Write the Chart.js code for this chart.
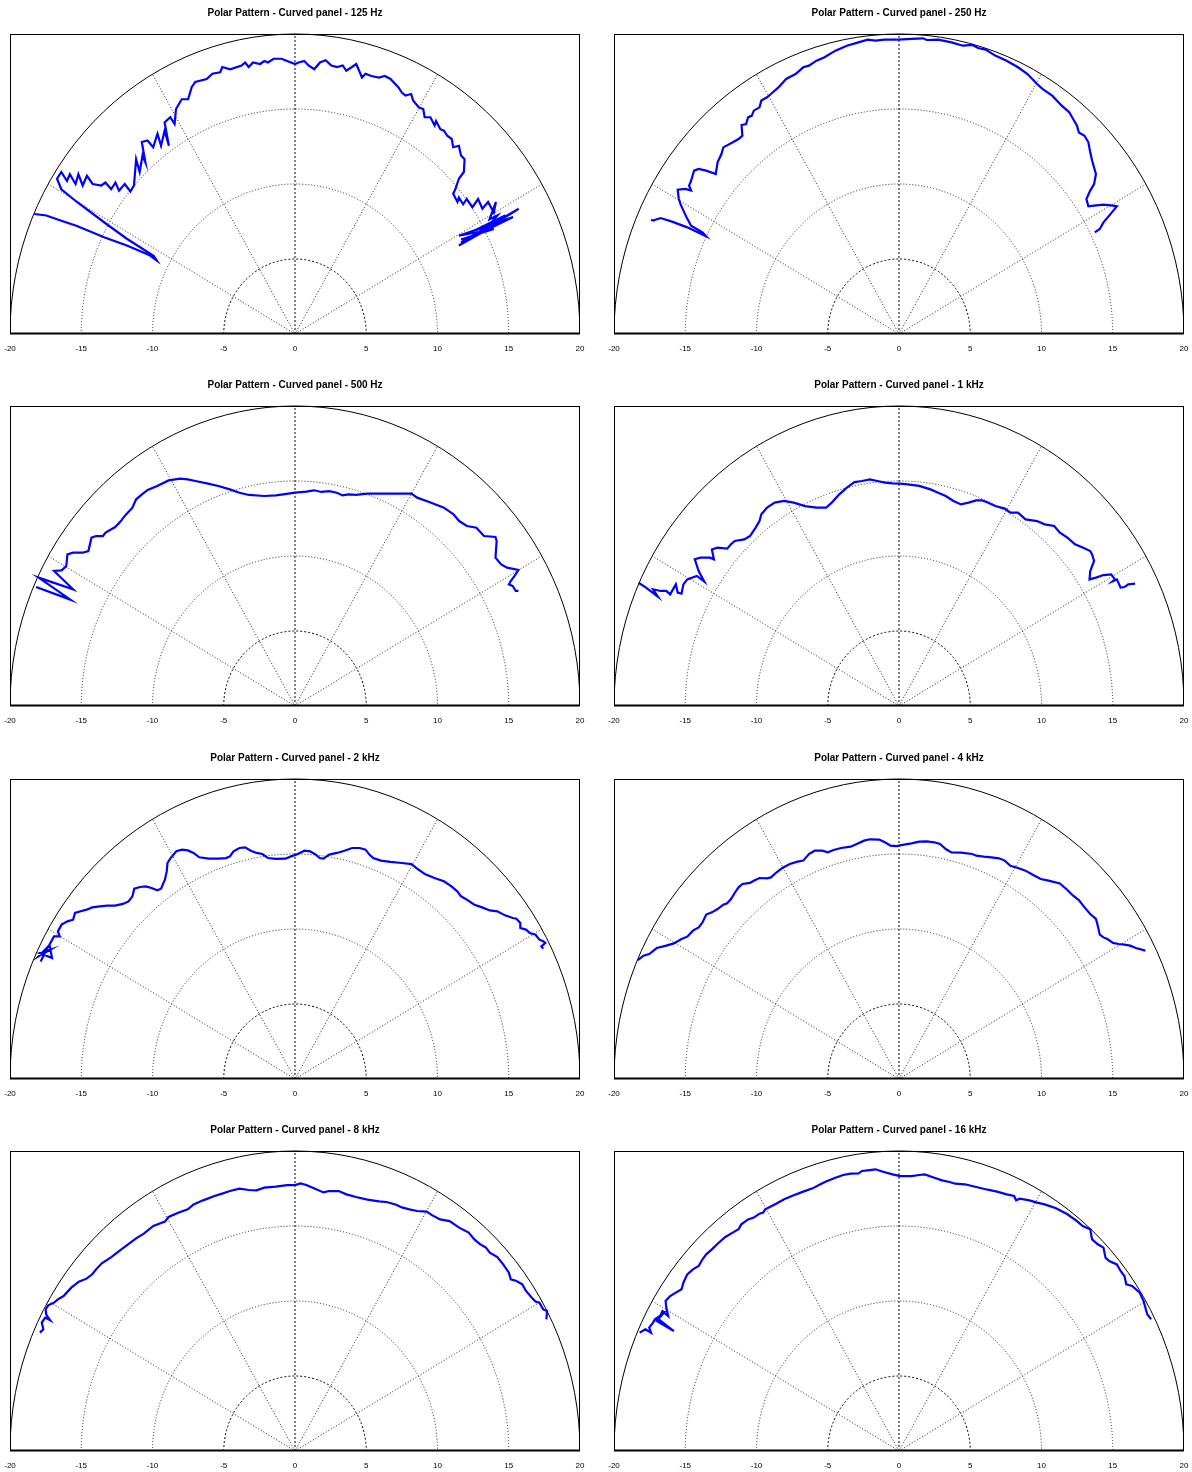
<!DOCTYPE html>
<html>
<head>
<meta charset="utf-8">
<title>Polar Pattern - Curved panel</title>
<script src="https://cdn.jsdelivr.net/npm/chart.js@4.4.1/dist/chart.umd.min.js"></script>
<style>
html, body { margin: 0; padding: 0; background: #fff; }
#page { position: relative; width: 1192px; height: 1472px; }
#page canvas { position: absolute; }
</style>
</head>
<body>
<div id="page"></div>
<script>
// axis + grid values
const xTicks = [-20, -15, -10, -5, 0, 5, 10, 15, 20];
const ringRadii = [5, 10, 15, 20];
const spokeAngles = [30, 60, 90, 120, 150];
const titles = ['125 Hz', '250 Hz', '500 Hz', '1 kHz', '2 kHz', '4 kHz', '8 kHz', '16 kHz'];

const p125 = [[-18.3,8.0],[-17.45,7.9],[-16.4,7.55],[-15.3,7.2],[-13.4,6.45],[-11.8,5.9],[-10.2,5.25],[-9.7,4.9],[-9.9,5.2],[-11.8,6.35],[-13.4,7.45],[-15.3,8.8],[-16.4,9.65],[-16.7,10.35],[-16.4,10.8],[-16.0,10.2],[-15.8,10.65],[-15.4,10.0],[-15.2,10.65],[-14.9,9.9],[-14.6,10.55],[-14.2,10.0],[-13.6,9.9],[-13.3,10.1],[-12.9,9.65],[-12.6,10.1],[-12.35,9.55],[-11.95,10.0],[-11.55,9.5],[-11.3,9.9],[-11.15,11.65],[-10.9,10.8],[-10.7,11.9],[-10.5,11.45],[-10.75,12.8],[-10.35,12.9],[-9.95,12.45],[-9.65,13.35],[-9.4,12.55],[-9.15,13.55],[-8.85,12.55],[-9.15,14.1],[-8.75,14.45],[-8.45,14.0],[-8.35,15.0],[-7.95,15.65],[-7.5,15.65],[-7.25,16.45],[-7.0,16.8],[-6.2,17.0],[-5.8,17.35],[-5.25,17.45],[-5.1,17.8],[-4.55,17.65],[-3.75,17.9],[-3.5,18.1],[-3.25,17.8],[-2.95,18.1],[-2.45,18.0],[-2.15,18.2],[-1.9,18.1],[-1.5,18.35],[-0.95,18.35],[-0.55,18.2],[0,18.0],[0.25,18.1],[0.65,18.2],[0.95,17.9],[1.35,17.65],[1.75,18.1],[2.15,18.25],[2.55,17.9],[2.95,17.8],[3.35,17.9],[3.6,17.55],[4.0,17.8],[4.3,18.0],[4.7,17.1],[4.95,17.35],[5.35,17.2],[5.9,17.1],[6.3,17.2],[6.7,17.0],[7.25,16.45],[7.5,16.1],[7.75,15.9],[8.15,16.0],[8.3,15.55],[8.7,15.1],[9.0,15.0],[9.1,14.45],[9.5,14.45],[9.8,13.9],[9.9,14.2],[10.2,13.65],[10.45,13.55],[10.7,13.2],[11.0,13.0],[11.1,12.45],[11.5,12.55],[11.65,11.9],[11.9,11.65],[11.85,10.8],[11.5,10.35],[11.25,9.65],[11.1,9.35],[11.4,8.8],[11.5,9.1],[11.8,8.65],[12.05,9.0],[12.45,8.45],[12.85,9.0],[13.15,8.35],[13.55,8.8],[13.95,8.1],[14.1,8.8],[13.65,7.65],[14.2,7.9],[13.4,7.0],[14.75,7.9],[12.6,6.9],[14.2,7.35],[11.5,5.9],[15.7,8.35],[11.65,6.1],[15.3,7.8],[11.5,6.55],[13.95,7.0],[11.65,6.3]];
const p250 = [[-17.4,7.62],[-17.26,7.56],[-16.73,7.73],[-15.93,7.49],[-14.86,7.11],[-13.53,6.51],[-13.79,6.78],[-14.59,7.22],[-14.91,7.78],[-15.07,8.11],[-15.34,8.67],[-15.45,9.0],[-15.53,9.62],[-14.99,9.67],[-14.59,9.56],[-14.73,9.89],[-14.59,10.22],[-14.38,10.89],[-14.06,11.0],[-13.53,10.89],[-12.86,10.67],[-12.73,11.44],[-12.46,12.0],[-12.33,12.44],[-11.66,12.78],[-11.26,13.0],[-10.99,13.22],[-11.05,13.93],[-10.73,14.0],[-10.59,14.44],[-10.33,14.56],[-10.19,14.89],[-9.79,15.11],[-9.66,15.56],[-9.26,15.78],[-8.99,16.0],[-8.46,16.44],[-7.92,17.0],[-7.26,17.33],[-6.72,17.78],[-6.32,17.89],[-5.79,18.22],[-5.26,18.44],[-4.46,18.89],[-3.66,19.22],[-2.85,19.44],[-2.19,19.62],[-1.65,19.56],[-0.99,19.62],[-0.05,19.62],[0.88,19.67],[1.68,19.71],[1.95,19.6],[2.75,19.62],[3.68,19.44],[4.48,19.22],[5.15,19.27],[5.55,19.07],[6.08,18.96],[6.75,18.56],[7.55,18.22],[8.35,17.78],[9.02,17.33],[9.69,16.67],[10.09,16.33],[10.75,15.89],[11.42,15.22],[11.95,14.78],[12.22,14.33],[12.49,13.89],[12.62,13.44],[13.02,13.22],[13.29,12.78],[13.42,12.11],[13.55,11.56],[13.82,10.67],[13.69,10.0],[13.42,9.56],[13.15,9.0],[13.29,8.51],[13.69,8.56],[14.35,8.62],[15.02,8.56],[15.29,8.51],[14.75,7.89],[14.35,7.44],[14.09,7.0],[13.74,6.78]];
const p500 = [[-18.17,7.93],[-15.76,7.09],[-17.99,8.56],[-15.57,7.78],[-16.91,9.0],[-16.38,9.04],[-16.05,9.33],[-15.97,10.11],[-15.57,10.22],[-14.9,10.22],[-14.5,10.33],[-14.28,11.22],[-13.96,11.33],[-13.48,11.33],[-13.29,11.56],[-12.62,11.93],[-12.22,12.33],[-11.95,12.67],[-11.41,13.22],[-11.15,13.78],[-10.74,14.11],[-10.34,14.4],[-9.67,14.67],[-8.87,15.04],[-8.06,15.16],[-7.52,15.11],[-6.99,15.0],[-6.18,14.84],[-5.38,14.67],[-4.57,14.44],[-3.9,14.22],[-3.23,14.07],[-2.16,14.0],[-1.35,14.04],[-0.82,14.11],[0,14.22],[0.79,14.29],[1.33,14.38],[1.86,14.27],[2.4,14.33],[2.94,14.22],[3.34,14.04],[3.74,14.11],[4.28,14.07],[5.08,14.16],[5.89,14.16],[6.69,14.16],[7.5,14.16],[8.17,14.16],[8.57,13.89],[9.37,13.62],[10.45,13.22],[11.12,12.78],[11.52,12.33],[12.06,12.0],[12.73,11.89],[13.26,11.33],[14.07,11.27],[14.15,11.0],[14.07,9.89],[14.47,9.44],[14.88,9.22],[15.68,9.07],[15.41,8.67],[15.14,8.33],[15.01,8.11],[15.28,8.0],[15.49,7.67],[15.68,7.67]];
const p1k = [[-18.28,8.22],[-17.8,7.93],[-16.92,7.29],[-17.26,7.78],[-16.73,7.67],[-16.33,7.67],[-16.06,7.44],[-15.66,8.11],[-15.53,7.56],[-15.26,7.49],[-15.13,8.11],[-14.86,8.44],[-14.19,8.67],[-13.66,8.29],[-14.06,9.0],[-14.33,9.78],[-13.93,9.89],[-13.26,9.89],[-12.99,9.78],[-13.13,10.44],[-12.73,10.56],[-12.06,10.49],[-11.79,10.78],[-11.53,11.0],[-10.86,11.11],[-10.46,11.33],[-10.06,11.89],[-9.79,12.33],[-9.66,12.78],[-9.26,13.22],[-8.72,13.56],[-8.06,13.67],[-7.39,13.56],[-6.59,13.33],[-5.79,13.22],[-5.12,13.22],[-4.72,13.56],[-4.19,14.11],[-3.66,14.56],[-3.12,14.93],[-2.59,15.0],[-2.05,15.11],[-1.52,15.0],[-0.99,14.89],[-0.45,14.84],[0.08,14.82],[0.61,14.78],[1.41,14.67],[2.21,14.44],[2.75,14.22],[3.28,14.0],[3.82,13.67],[4.35,13.44],[4.88,13.56],[5.42,13.71],[5.82,13.71],[6.22,13.56],[6.75,13.33],[7.42,13.16],[7.82,12.89],[8.35,12.89],[8.88,12.44],[9.69,12.33],[10.22,12.11],[10.89,12.0],[11.29,11.56],[11.82,11.22],[12.35,10.78],[12.89,10.56],[13.42,10.33],[13.55,10.11],[13.69,9.67],[13.42,9.0],[13.37,8.44],[13.82,8.56],[14.35,8.73],[14.89,8.78],[15.15,8.44],[15.02,8.33],[15.29,8.44],[15.55,7.89],[15.82,7.93],[16.09,8.11],[16.57,8.16]];
const p2k = [[-17.85,7.84],[-17.32,8.84],[-17.99,8.18],[-17.18,8.62],[-17.91,8.4],[-17.05,8.07],[-17.23,8.96],[-16.91,9.51],[-16.51,9.51],[-16.64,9.84],[-16.38,10.29],[-15.97,10.51],[-15.57,10.62],[-15.44,11.07],[-15.04,11.18],[-14.63,11.29],[-14.23,11.44],[-13.69,11.51],[-13.16,11.56],[-12.62,11.56],[-12.08,11.67],[-11.68,11.84],[-11.41,12.18],[-11.28,12.69],[-10.88,12.8],[-10.47,12.84],[-10.07,12.73],[-9.67,12.58],[-9.4,12.69],[-9.13,13.29],[-9.0,13.84],[-8.95,14.4],[-8.73,14.73],[-8.33,15.18],[-7.93,15.29],[-7.52,15.24],[-7.12,15.07],[-6.72,14.78],[-6.05,14.69],[-5.38,14.69],[-4.84,14.73],[-4.57,14.84],[-4.31,15.18],[-3.9,15.4],[-3.5,15.44],[-3.1,15.22],[-2.7,15.07],[-2.29,15.0],[-1.89,14.73],[-1.35,14.67],[-0.68,14.69],[-0.28,14.84],[0.12,14.96],[0.66,15.22],[1.06,15.18],[1.46,14.96],[1.73,14.73],[2.0,14.69],[2.4,14.96],[2.94,15.07],[3.47,15.22],[4.01,15.4],[4.55,15.4],[4.95,15.29],[5.22,14.96],[5.49,14.73],[6.02,14.56],[6.69,14.47],[7.5,14.4],[8.17,14.33],[8.57,14.02],[9.11,13.67],[9.78,13.4],[10.45,13.18],[10.98,12.84],[11.39,12.51],[11.65,12.18],[12.06,11.96],[12.59,11.62],[13.13,11.44],[13.67,11.24],[14.2,11.18],[14.74,10.91],[15.28,10.73],[15.54,10.69],[15.81,10.4],[15.81,10.07],[16.21,9.96],[16.48,9.73],[16.88,9.62],[17.15,9.29],[17.42,9.18],[17.56,9.07],[17.29,8.84],[17.42,8.69]];
const p4k = [[-18.33,7.93],[-17.93,8.22],[-17.53,8.33],[-17.0,8.73],[-16.33,8.89],[-15.8,9.04],[-15.26,9.33],[-14.86,9.49],[-14.46,9.89],[-14.06,10.11],[-13.79,10.44],[-13.53,10.96],[-13.13,11.11],[-12.73,11.33],[-12.33,11.62],[-12.06,11.71],[-11.79,12.0],[-11.53,12.4],[-11.26,12.78],[-10.99,13.0],[-10.46,13.07],[-10.19,13.22],[-9.79,13.4],[-9.26,13.38],[-8.99,13.44],[-8.59,13.78],[-8.19,14.07],[-7.66,14.33],[-7.12,14.49],[-6.72,14.56],[-6.32,15.0],[-5.92,15.22],[-5.39,15.22],[-4.99,15.11],[-4.59,15.27],[-4.06,15.4],[-3.39,15.49],[-2.85,15.71],[-2.45,15.89],[-2.05,15.98],[-1.39,15.96],[-0.99,15.78],[-0.59,15.56],[-0.19,15.53],[0.35,15.62],[0.88,15.71],[1.41,15.82],[1.95,15.84],[2.48,15.78],[2.88,15.67],[3.28,15.33],[3.68,15.11],[4.35,15.09],[5.15,15.0],[5.42,14.89],[5.95,14.82],[6.48,14.78],[7.02,14.71],[7.42,14.56],[7.82,14.22],[8.35,14.07],[8.88,13.89],[9.42,13.6],[9.95,13.33],[10.49,13.22],[11.29,13.04],[11.82,12.6],[12.22,12.22],[12.62,11.93],[13.02,11.44],[13.42,11.0],[13.82,10.67],[13.95,10.22],[14.09,9.62],[14.35,9.44],[14.62,9.33],[15.02,9.07],[15.42,9.0],[15.82,8.96],[16.22,8.89],[16.62,8.73],[17.29,8.56]];
const p8k = [[-17.9,7.89],[-17.66,8.11],[-17.77,8.56],[-17.53,8.89],[-17.18,8.71],[-17.45,9.07],[-17.5,9.44],[-17.32,9.71],[-16.91,9.89],[-16.64,10.11],[-16.24,10.33],[-15.7,10.89],[-15.17,11.29],[-14.63,11.49],[-14.23,11.78],[-13.96,12.11],[-13.56,12.51],[-12.89,12.93],[-12.35,13.33],[-11.55,13.89],[-11.15,14.18],[-10.61,14.49],[-9.94,15.0],[-9.13,15.29],[-8.87,15.6],[-8.2,15.89],[-7.52,16.11],[-7.12,16.44],[-6.45,16.71],[-5.65,17.0],[-5.11,17.16],[-4.57,17.33],[-3.9,17.49],[-3.23,17.4],[-2.7,17.38],[-2.16,17.56],[-1.35,17.62],[-0.55,17.73],[0,17.73],[0.39,17.84],[0.79,17.73],[1.33,17.51],[2.0,17.24],[2.4,17.33],[3.07,17.33],[3.61,17.11],[4.28,16.93],[5.08,16.76],[5.89,16.64],[6.42,16.6],[7.1,16.42],[7.5,16.24],[8.03,16.11],[8.57,16.0],[9.24,15.96],[9.64,15.71],[10.18,15.44],[10.85,15.33],[11.52,14.89],[12.19,14.56],[12.59,14.11],[13.0,13.78],[13.4,13.56],[13.67,13.22],[14.2,12.93],[14.61,12.44],[15.01,11.89],[15.14,11.44],[15.54,11.33],[15.95,11.11],[16.21,10.67],[16.62,10.22],[16.88,9.96],[17.15,9.89],[17.42,9.44],[17.69,9.33],[17.64,8.78]];
const p16k = [[-18.2,7.89],[-17.8,8.11],[-17.4,7.89],[-17.53,8.22],[-17.26,8.56],[-17.13,8.78],[-16.6,9.11],[-17.0,8.67],[-15.8,8.0],[-16.86,8.78],[-16.6,9.33],[-16.2,9.0],[-16.33,9.56],[-16.38,10.0],[-16.06,10.33],[-15.66,10.56],[-15.26,10.78],[-15.13,11.22],[-14.86,11.78],[-14.46,12.11],[-14.06,12.33],[-13.79,12.78],[-13.53,13.11],[-13.13,13.44],[-12.73,13.82],[-12.19,14.27],[-11.79,14.49],[-11.26,14.78],[-11.07,15.11],[-10.59,15.44],[-10.19,15.56],[-9.79,15.82],[-9.53,15.89],[-9.39,16.11],[-8.72,16.44],[-8.06,16.78],[-7.52,17.0],[-6.72,17.29],[-6.06,17.51],[-5.52,17.78],[-5.12,17.96],[-4.46,18.22],[-3.92,18.4],[-3.39,18.49],[-2.85,18.51],[-2.59,18.67],[-2.05,18.73],[-1.65,18.78],[-1.12,18.62],[-0.45,18.44],[0.08,18.33],[0.88,18.33],[1.41,18.4],[1.81,18.44],[2.48,18.22],[3.02,18.04],[3.55,17.93],[3.95,17.82],[4.62,17.78],[5.42,17.6],[6.22,17.42],[6.88,17.29],[7.55,17.11],[8.08,17.0],[8.22,16.71],[8.48,16.82],[9.15,16.71],[9.69,16.56],[10.22,16.44],[11.02,16.18],[11.82,15.78],[12.49,15.33],[12.89,15.0],[13.42,14.78],[13.55,14.11],[13.95,13.78],[14.35,13.56],[14.49,12.89],[14.75,12.67],[15.29,12.44],[15.55,12.0],[15.82,11.67],[15.95,11.11],[16.36,11.0],[16.89,10.56],[17.16,10.0],[17.29,9.56],[17.42,9.11],[17.69,8.78]];

const curves = [p125, p250, p500, p1k, p2k, p4k, p8k, p16k];

// half-circle grid, spokes and frame, drawn through the scales
const polarGrid = {
  id: 'polarGrid',
  beforeDatasetsDraw(chart) {
    const { ctx, chartArea: a, scales: { x, y } } = chart;
    const cx = x.getPixelForValue(0), cy = y.getPixelForValue(0);
    ctx.save();
    ctx.beginPath(); ctx.rect(a.left, a.top - 1, a.width, a.height + 1); ctx.clip();
    ctx.lineWidth = 1;
    ringRadii.forEach(r => {
      const rx = x.getPixelForValue(r) - cx, ry = cy - y.getPixelForValue(r);
      ctx.beginPath();
      ctx.ellipse(cx, cy, rx, ry, 0, Math.PI, 2 * Math.PI);
      if (r === 20) { ctx.setLineDash([]); ctx.strokeStyle = '#000'; }
      else if (r === 5) { ctx.setLineDash([2, 2]); ctx.strokeStyle = '#000'; }
      else { ctx.setLineDash([1, 2]); ctx.strokeStyle = '#222'; }
      ctx.stroke();
    });
    spokeAngles.forEach(d => {
      const t = d * Math.PI / 180;
      ctx.beginPath();
      ctx.moveTo(cx, cy);
      ctx.lineTo(x.getPixelForValue(20 * Math.cos(t)), y.getPixelForValue(20 * Math.sin(t)));
      ctx.setLineDash(d === 90 ? [2, 2] : [1, 2]);
      ctx.strokeStyle = d === 90 ? '#000' : '#222';
      ctx.stroke();
    });
    ctx.restore();
  },
  afterDraw(chart) {
    const { ctx, chartArea: a } = chart;
    ctx.save();
    ctx.setLineDash([]);
    ctx.strokeStyle = '#000';
    ctx.lineWidth = 1;
    ctx.strokeRect(a.left + 0.5, a.top + 0.5, a.width - 1, a.height - 1);
    ctx.lineWidth = 2;
    ctx.beginPath(); ctx.moveTo(a.left, a.bottom - 0.5); ctx.lineTo(a.right, a.bottom - 0.5); ctx.stroke();
    ctx.restore();
  }
};

const page = document.getElementById('page');
const rowTops = [0, 372, 745, 1117];
const FONT = '"Liberation Sans", Arial, Helvetica, sans-serif';

curves.forEach((pts, i) => {
  const col = i % 2, row = Math.floor(i / 2);
  const cv = document.createElement('canvas');
  cv.width = 596; cv.height = 358;
  cv.style.left = (col * 596) + 'px';
  cv.style.top = rowTops[row] + 'px';
  page.appendChild(cv);

  new Chart(cv, {
    type: 'scatter',
    data: {
      datasets: [{
        data: pts.map(p => ({ x: p[0], y: p[1] })),
        showLine: true,
        borderColor: '#0000ff',
        borderWidth: 2.2,
        pointRadius: 0,
        tension: 0,
        fill: false
      }]
    },
    options: {
      responsive: false,
      animation: false,
      events: [],
      layout: { padding: col === 0 ? { left: 10, right: 16, top: 0, bottom: 0 } : { left: 18, right: 8, top: 0, bottom: 0 } },
      plugins: {
        legend: { display: false },
        tooltip: { enabled: false },
        title: {
          display: true,
          text: 'Polar Pattern - Curved panel - ' + titles[i],
          color: '#000',
          font: { family: FONT, size: 10, weight: 'bold', lineHeight: 1.2 },
          padding: { top: 7, bottom: 15 }
        }
      },
      scales: {
        x: {
          type: 'linear', min: -20, max: 20,
          grid: { display: false },
          border: { display: false },
          ticks: { color: '#000', font: { family: FONT, size: 8 }, padding: 2, maxRotation: 0 },
          afterBuildTicks: s => { s.ticks = xTicks.map(v => ({ value: v })); },
          afterFit: s => { s.height = 24; s.paddingLeft = 0; s.paddingRight = 0; }
        },
        y: { type: 'linear', min: 0, max: 20, display: false }
      }
    },
    plugins: [polarGrid]
  });
});
</script>
</body>
</html>
